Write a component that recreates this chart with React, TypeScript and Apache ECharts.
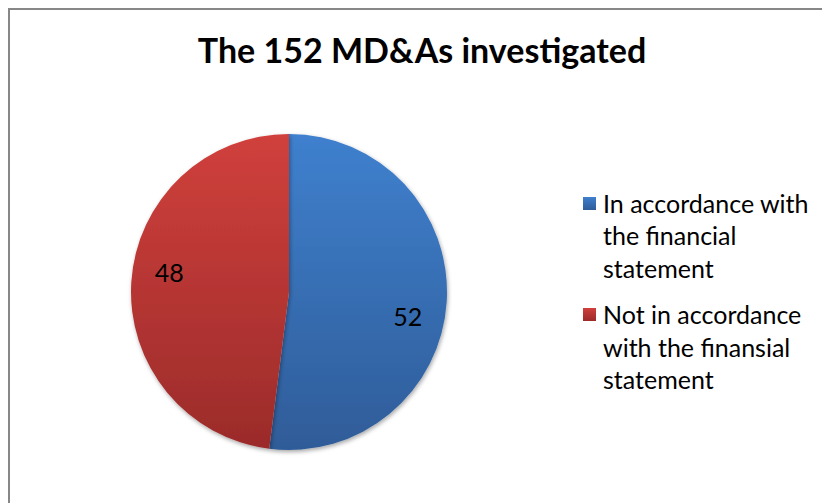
import React, { useEffect, useRef } from "react";
import * as echarts from "echarts";

const chartTitle = "The 152 MD&As investigated";
const categories = [
  "In accordance with the financial statement",
  "Not in accordance with the finansial statement",
];
const values = [52, 48];
const legendLines = [
  ["In accordance with", "the financial", "statement"],
  ["Not in accordance", "with the finansial", "statement"],
];
const topColors = ["#3F80CE", "#D0403C"];
const bottomColors = ["#2F5C98", "#9B2B2A"];
const labelShift = [
  [37, 19],
  [-38, -15],
];

const FONT = "Lato";

export default function App() {
  const ref = useRef<HTMLDivElement>(null);
  useEffect(() => {
    if (!ref.current) return;
    const prevMargin = document.body.style.margin;
    document.body.style.margin = "0";
    const chart = echarts.init(ref.current, undefined, { renderer: "svg" });
    const grad = (i: number) =>
      new echarts.graphic.LinearGradient(0, 0, 0, 1, [
        { offset: 0, color: topColors[i] },
        { offset: 1, color: bottomColors[i] },
      ]);

    const legendGraphics: any[] = [];
    const legX = 583;
    const markerTop = [197, 308];
    const firstBaseline = [212, 323.5];
    const lineH = 32.7;
    legendLines.forEach((lines, i) => {
      legendGraphics.push({
        type: "rect",
        shape: { x: legX, y: markerTop[i], width: 13, height: 13 },
        style: { fill: grad(i) },
      });
      lines.forEach((ln, j) => {
        legendGraphics.push({
          type: "text",
          x: legX + 20,
          y: firstBaseline[i] + j * lineH + 3,
          style: {
            text: ln,
            font: `25px ${FONT}`,
            fill: "#000",
            verticalAlign: "bottom",
          },
        });
      });
    });

    chart.setOption({
      animation: false,
      title: {
        text: chartTitle,
        left: 417,
        textAlign: "center",
        top: 27,
        textStyle: { fontFamily: FONT, fontWeight: "bold", fontSize: 34, color: "#000" },
      },
      graphic: [
        { type: "line", shape: { x1: 9, y1: 8, x2: 9, y2: 503 }, style: { stroke: "#878787", lineWidth: 2 } },
        { type: "line", shape: { x1: 8, y1: 9, x2: 822, y2: 9 }, style: { stroke: "#878787", lineWidth: 2 } },
        ...legendGraphics,
      ],
      series: [
        {
          type: "pie",
          center: [289, 292],
          radius: 158,
          startAngle: 90,
          clockwise: true,
          label: {
            show: true,
            position: "inside",
            formatter: "{c}",
            fontFamily: FONT,
            fontSize: 25,
            color: "#000",
          },
          labelLayout: (p: any) => ({ dx: labelShift[p.dataIndex][0], dy: labelShift[p.dataIndex][1] }),
          labelLine: { show: false },
          emphasis: { disabled: true },
          itemStyle: {
            shadowBlur: 4,
            shadowOffsetX: 1,
            shadowOffsetY: 2,
            shadowColor: "rgba(0,0,0,0.35)",
          },
          data: categories.map((name, i) => ({
            name,
            value: values[i],
            itemStyle: { color: grad(i) },
          })),
        },
      ],
    });
    return () => {
      chart.dispose();
      document.body.style.margin = prevMargin;
    };
  }, []);
  return <div ref={ref} style={{ width: 822, height: 503 }} />;
}
